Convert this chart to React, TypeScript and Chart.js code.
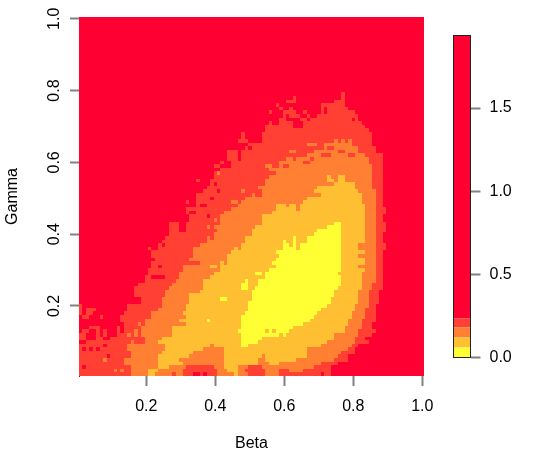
import React, { useEffect, useRef } from "react";
import { Chart, registerables } from "chart.js";

Chart.register(...registerables);

type Run = number[];
const FONT = "'Liberation Sans', Arimo, Helvetica, Arial, sans-serif";

const colorDeep = "#FF0033";
const colorHot = "#FF4033";
const colorOrange = "#FF8033";
const colorAmber = "#FFBF33";
const colorYellow = "#FFFF33";

const xTicks = [0.2, 0.4, 0.6, 0.8, 1.0];
const yTicks = [0.2, 0.4, 0.6, 0.8, 1.0];
const legendTicks = [0, 0.5, 1.0, 1.5];
const legendBreaks = [0, 0.06, 0.12, 0.18, 0.235, 1.936];
const legendColors = [colorYellow, colorAmber, colorOrange, colorHot, colorDeep];

const allRows = [
  1,2,3,4,5,6,7,8,9,10,11,12,13,14,15,16,17,18,19,20,21,22,23,24,25,26,27,28,29,30,31,32,33,34,35,36,37,38,39,40,
  41,42,43,44,45,46,47,48,49,50,51,52,53,54,55,56,57,58,59,60,61,62,63,64,65,66,67,68,69,70,71,72,73,74,75,76,77,78,79,80,
  81,82,83,84,85,86,87,88,89,90,91,92,93,94,95,96,97,98,99,100,
];

// Row-by-row extents of each level (row 1 = lowest gamma)
const hotLeft = [
  1,1,1,1,1,1,1,1,1,1,1,1,1,1,
  14,13,13,14,15,15,19,19,17,17,17,18,20,20,21,21,22,22,23,22,22,24,26,25,26,27,27,27,27,33,33,33,33,35,35,35,
  35,37,38,39,40,40,42,42,45,45,48,48,48,51,53,54,54,54,55,55,59,
];
const hotRight = [
  70,73,73,75,78,78,80,80,81,84,
  83,85,86,85,85,86,86,86,86,86,
  87,87,87,87,88,88,88,88,88,88,
  88,88,88,88,88,89,89,88,88,88,
  89,89,89,88,88,89,89,88,88,88,
  88,88,88,88,88,88,88,88,88,88,
  88,88,86,86,85,85,85,85,84,83,
  82,
];
const hotExtra: Run[] = [
  [1,72,73],[72,59,60],[72,65,66],[72,68,68],[72,69,79],[72,81,81],
  [73,60,60],[73,62,62],[73,63,64],[73,67,67],[73,70,81],
  [74,56,56],[74,60,63],[74,66,66],[74,71,71],[74,73,80],
  [75,59,59],[75,62,62],[75,71,71],[75,73,78],
  [76,58,58],[76,71,77],[77,61,63],[77,75,77],[78,63,63],[78,77,77],[79,77,77],
  [71,56,56],[70,56,56],[68,48,48],[67,48,48],[66,47,49],[65,50,52],[64,49,49],[63,44,46],[62,44,46],[61,44,46],
  [60,42,42],[59,40,41],[57,40,41],
  [36,21,21],[36,24,24],[37,24,24],[38,26,26],[49,32,32],[46,32,32],[47,32,32],[55,35,35],[55,39,39],[55,41,41],[56,41,41],[52,38,39],
  [19,1,1],[19,3,5],[18,1,1],[18,3,4],[17,2,3],[17,7,7],[20,1,1],
  [30,23,23],[29,24,24],
];
const deepSpots: Run[] = [
  [1,34,35],[1,37,37],[1,71,71],[2,34,36],[3,2,2],[6,9,9],[8,2,2],[8,4,4],[8,6,6],[9,8,8],
  [10,1,2],[11,3,5],[11,8,9],[12,3,5],[12,7,7],[12,9,11],[13,1,1],[13,4,5],[13,7,7],[13,9,11],[13,13,13],
  [14,1,3],[14,7,11],[14,13,13],
  [28,22,22],[28,24,24],[31,24,24],[28,23,25],[41,30,31],[42,30,31],[43,30,31],[45,38,38],[46,33,34],[48,36,37],
  [50,39,39],[52,41,41],[54,40,40],[73,61,61],[71,63,65],[70,63,65],[75,72,72],[74,72,72],[72,80,80],
];

const orangeLeft = [
  16,16,16,14,14,16,16,15,15,20,20,19,19,19,20,20,22,22,24,25,
  25,25,26,26,27,28,29,30,30,31,31,33,33,34,34,34,36,38,40,40,
  41,41,42,42,42,44,45,47,48,49,51,53,53,55,55,56,58,58,59,59,
  64,67,69,72,72,
];
const orangeRight = [
  27,65,68,70,74,75,76,78,79,80,80,81,81,82,82,82,83,83,83,84,
  84,84,84,84,85,85,86,86,86,86,86,86,86,86,86,86,86,86,86,86,
  86,86,86,86,86,86,86,86,86,86,86,86,85,85,85,85,85,85,85,84,
  84,83,81,81,79,
];
const orangeExtra: Run[] = [
  [1,29,30],[1,41,49],[1,55,58],[2,11,11],[2,13,13],[5,8,8],[10,16,16],[12,15,15],[12,17,17],[13,17,17],[15,18,18],
  [46,43,43],[44,40,40],[42,38,38],[42,40,40],[39,38,38],[37,37,37],[52,48,48],[49,45,46],
  [59,55,56],[58,56,57],[57,41,41],[63,62,63],[65,67,69],[61,61,62],[66,75,75],[66,77,77],[66,79,79],
];
const hotHoles: Run[] = [
  [2,31,40],[2,49,54],[2,59,61],[3,32,39],[3,50,53],[32,33,35],[59,60,61],[60,66,67],[61,68,68],
  [62,71,73],[62,79,80],[63,76,77],[64,73,74],[51,52,53],[52,52,53],
];

const amberLeft = [
  24,25,28,28,28,30,30,32,31,32,32,33,33,33,36,36,35,37,39,40,
  42,42,44,44,44,46,48,48,49,49,51,51,52,54,54,54,57,58,58,66,
  67,69,69,70,75,76,
];
const amberRight = [
  72,74,74,77,77,78,78,79,79,80,80,81,81,81,81,82,82,82,82,82,
  83,81,83,83,81,83,81,81,83,83,83,83,83,83,83,83,83,83,83,82,
  82,82,81,80,80,77,
];
const amberExtra: Run[] = [
  [1,21,22],[2,21,23],[3,24,26],[3,43,46],[2,44,46],[1,46,46],[4,24,30],[4,43,52],[4,56,58],
  [5,24,29],[5,43,52],[5,55,63],[6,24,32],[6,43,53],[6,55,66],[7,25,33],[7,43,66],[8,26,36],[8,43,66],[9,26,38],[9,40,70],
  [56,73,73],[56,76,77],[55,73,74],[31,39,40],[32,42,42],[35,45,45],[36,46,46],
];
const orangeHoles: Run[] = [[26,35,36],[25,34,36],[15,30,30],[15,31,31],[51,69,70],[48,61,61],[48,64,64],[47,64,64]];

const yellowRuns: Run[] = [
  [9,48,49],[10,48,52],[11,48,53],[12,48,58],[12,60,60],[13,47,54],[13,56,56],[13,58,61],[14,48,62],[15,48,65],[16,48,67],
  [17,48,68],[18,49,69],[19,50,70],[20,50,72],[21,50,73],[22,51,73],[23,51,74],[24,52,74],[25,52,75],[26,53,76],[27,53,76],
  [28,55,76],[29,55,75],[30,56,76],[31,58,76],[32,59,76],[33,58,76],[34,59,76],[35,58,76],[36,60,63],[36,65,76],
  [37,60,61],[37,63,63],[37,65,76],[38,60,60],[38,63,63],[38,67,76],[39,63,63],[39,67,76],[40,69,76],[41,70,76],[42,73,76],[43,75,76],
  [16,38,38],[22,42,43],[25,48,49],[26,48,49],[27,49,49],[24,51,51],[29,52,53],[32,57,58],[25,54,54],
];

const zipRuns = (left: number[], right: number[], firstRow: number): Run[] =>
  left.map((l, k) => [firstRow + k, l, right[k]]);
const toBars = (runs: Run[]) =>
  runs.map(([row, a, b]) => ({ y: row / 100, x: [(a - 0.5) / 100, (b + 0.5) / 100] }));

const snapBars = {
  id: "snapBars",
  afterDatasetsUpdate(chart: any) {
    chart.data.datasets.forEach((_: any, i: number) => {
      chart.getDatasetMeta(i).data.forEach((el: any) => {
        if (el.horizontal) {
          const t = Math.round(el.y - el.height / 2);
          const b = Math.round(el.y + el.height / 2 + 0.02);
          el.y = (t + b) / 2;
          el.height = b - t;
          el.x = Math.round(el.x);
          el.base = Math.round(el.base);
        }
      });
    });
  },
};

const frameLegend = {
  id: "frameLegend",
  afterDraw(chart: any) {
    const { left, right, top, bottom } = chart.chartArea;
    const c = chart.ctx;
    c.save();
    c.strokeStyle = "#222";
    c.lineWidth = 1;
    c.strokeRect(left, top, right - left, bottom - top);
    c.restore();
  },
};

export default function App() {
  const mainRef = useRef<HTMLCanvasElement>(null);
  const legendRef = useRef<HTMLCanvasElement>(null);

  useEffect(() => {
    const layer = (label: string, color: string, runs: Run[]) => ({
      label,
      data: toBars(runs),
      backgroundColor: color,
      borderWidth: 0,
      inflateAmount: 0,
      grouped: false,
      barPercentage: 1,
      categoryPercentage: 1,
    });
    // bottom to top
    const layers = [
      layer("deep", colorDeep, allRows.map((r) => [r, 1, 100])),
      layer("hot", colorHot, [...zipRuns(hotLeft, hotRight, 1), ...hotExtra]),
      layer("deepSpots", colorDeep, deepSpots),
      layer("orange", colorOrange, [...zipRuns(orangeLeft, orangeRight, 1), ...orangeExtra]),
      layer("hotHoles", colorHot, hotHoles),
      layer("amber", colorAmber, [...zipRuns(amberLeft, amberRight, 10), ...amberExtra]),
      layer("orangeHoles", colorOrange, orangeHoles),
      layer("yellow", colorYellow, yellowRuns),
    ];
    const font = { family: FONT, size: 16 };
    const main = new Chart(mainRef.current as HTMLCanvasElement, {
      type: "bar",
      data: { datasets: layers.slice().reverse() as any },
      plugins: [snapBars],
      options: {
        indexAxis: "y",
        responsive: false,
        animation: false,
        layout: { padding: { left: 0, top: 17, right: 120, bottom: 0 } },
        plugins: { legend: { display: false }, tooltip: { enabled: false } },
        scales: {
          x: {
            type: "linear",
            min: 0.005,
            max: 1.005,
            afterBuildTicks: (s: any) => { s.ticks = xTicks.map((value) => ({ value })); },
            afterFit: (s: any) => { s.height = 88; },
            grid: { drawOnChartArea: false, drawTicks: true, tickLength: 10, tickColor: "#808080", tickWidth: 2 },
            border: { display: false },
            ticks: { color: "#000", font, padding: 11, maxRotation: 0, callback: (v: any) => Number(v).toFixed(1) },
            title: { display: true, text: "Beta", color: "#000", font, padding: { top: 0, bottom: 11 } },
          },
          y: {
            type: "linear",
            offset: false,
            min: 0.005,
            max: 1.005,
            afterBuildTicks: (s: any) => { s.ticks = yTicks.map((value) => ({ value })); },
            afterFit: (s: any) => { s.width = 79; },
            grid: { offset: false, drawOnChartArea: false, drawTicks: true, tickLength: 9, tickColor: "#808080", tickWidth: 2 },
            border: { display: true, color: "#333", width: 1 },
            ticks: { color: "#000", font, padding: 4, minRotation: 90, maxRotation: 90, crossAlign: "center", callback: (v: any) => Number(v).toFixed(1) },
            title: { display: true, text: "Gamma", color: "#000", font, padding: { top: 3, bottom: 0 } },
          },
        },
      } as any,
    });

    const legend = new Chart(legendRef.current as HTMLCanvasElement, {
      type: "bar",
      data: {
        labels: [""],
        datasets: legendColors.map((c, i) => ({
          data: [[legendBreaks[i], legendBreaks[i + 1]]],
          backgroundColor: c,
          borderWidth: 0,
          inflateAmount: 0,
          grouped: false,
          barPercentage: 1,
          categoryPercentage: 1,
        })) as any,
      },
      plugins: [frameLegend],
      options: {
        responsive: false,
        animation: false,
        layout: { padding: { left: 453.5, top: 35.5, right: 0, bottom: 106.5 } },
        plugins: { legend: { display: false }, tooltip: { enabled: false } },
        scales: {
          x: { display: false },
          y: {
            position: "right",
            min: 0,
            max: 1.936,
            afterBuildTicks: (s: any) => { s.ticks = legendTicks.map((value) => ({ value })); },
            afterFit: (s: any) => { s.width = 73.5; },
            grid: { drawOnChartArea: false, tickLength: 10, tickColor: "#808080", tickWidth: 2 },
            border: { display: false },
            ticks: { color: "#000", font, padding: 9, callback: (v: any) => Number(v).toFixed(1) },
          },
        },
      } as any,
    });
    return () => {
      main.destroy();
      legend.destroy();
    };
  }, []);

  const style: React.CSSProperties = { position: "absolute", left: 0, top: 0, display: "block" };
  return (
    <div>
      <canvas ref={mainRef} width={544} height={464} style={style} />
      <canvas ref={legendRef} width={544} height={464} style={{ ...style, pointerEvents: "none" }} />
    </div>
  );
}
